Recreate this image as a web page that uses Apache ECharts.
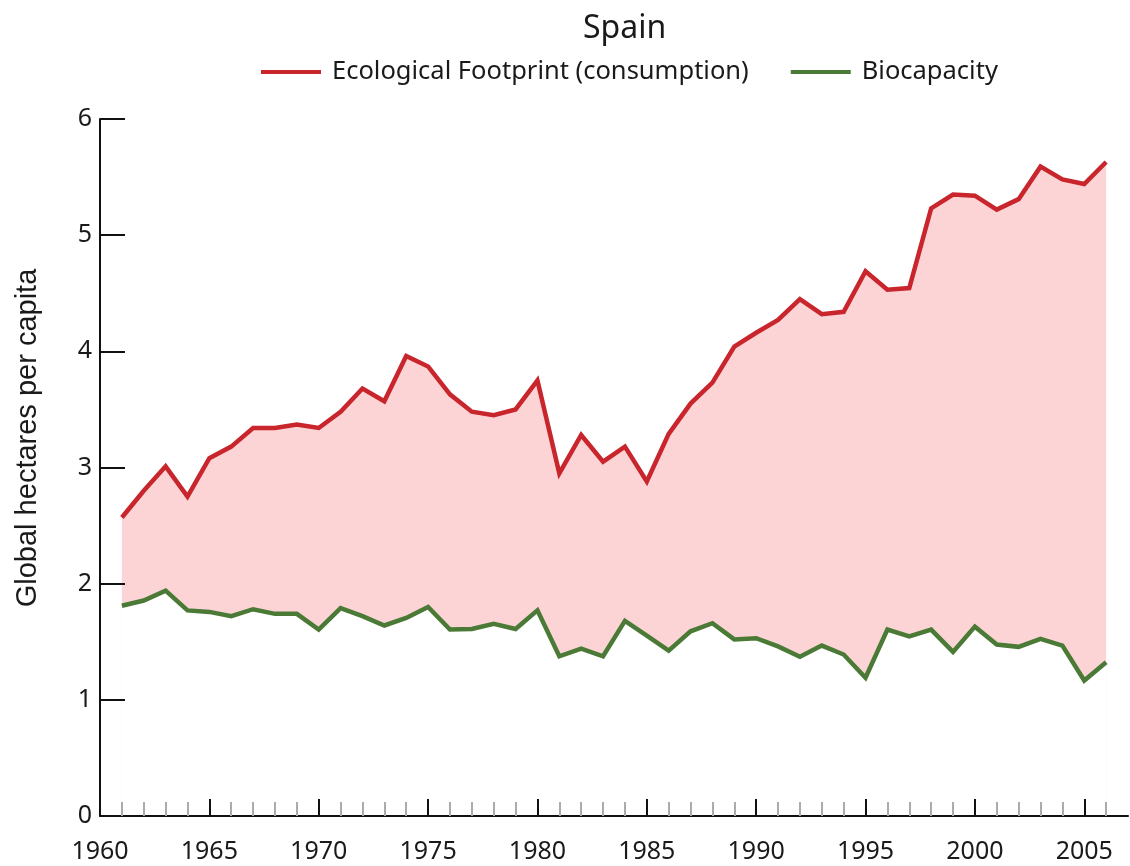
<!DOCTYPE html>
<html>
<head>
<meta charset="utf-8">
<title>Spain</title>
<script src="https://cdn.jsdelivr.net/npm/echarts@6/dist/echarts.min.js"></script>
<style>
    html, body {margin: 0; padding: 0; background: #fff;}
    #chart {width: 1130px; height: 866px;}
</style>
</head>
<body>
<div id="chart"></div>
<script>
// years of data
const years = [
    1961, 1962, 1963, 1964, 1965, 1966, 1967, 1968, 1969, 1970,
    1971, 1972, 1973, 1974, 1975, 1976, 1977, 1978, 1979, 1980,
    1981, 1982, 1983, 1984, 1985, 1986, 1987, 1988, 1989, 1990,
    1991, 1992, 1993, 1994, 1995, 1996, 1997, 1998, 1999, 2000,
    2001, 2002, 2003, 2004, 2005, 2006
];
// Ecological Footprint (consumption)
const footprint = [
    2.57, 2.80, 3.01, 2.75, 3.08, 3.18, 3.34, 3.34, 3.37, 3.34,
    3.48, 3.68, 3.57, 3.96, 3.87, 3.63, 3.48, 3.45, 3.50, 3.75,
    2.95, 3.28, 3.05, 3.18, 2.88, 3.29, 3.55, 3.73, 4.04, 4.16,
    4.27, 4.45, 4.32, 4.34, 4.69, 4.53, 4.545, 5.23, 5.35, 5.34,
    5.22, 5.31, 5.59, 5.48, 5.44, 5.63
];
// Biocapacity
const biocapacity = [
    1.81, 1.855, 1.94, 1.77, 1.757, 1.72, 1.78, 1.74, 1.74, 1.605,
    1.79, 1.72, 1.64, 1.705, 1.80, 1.605, 1.61, 1.654, 1.61, 1.77,
    1.375, 1.44, 1.375, 1.68, 1.553, 1.424, 1.59, 1.66, 1.52, 1.53,
    1.46, 1.37, 1.467, 1.39, 1.19, 1.605, 1.547, 1.605, 1.413, 1.63,
    1.476, 1.456, 1.525, 1.467, 1.166, 1.324
];
// x tick labels (major ticks)
const yearLabels = [1960, 1965, 1970, 1975, 1980, 1985, 1990, 1995, 2000, 2005];
// y tick labels
const valueTicks = [0, 1, 2, 3, 4, 5, 6];

const names = ['Ecological Footprint (consumption)', 'Biocapacity'];
const colors = ['#c8252c', '#4b7a36'];

const minorYears = years.filter(y => yearLabels.indexOf(y) < 0);
const pairs = (vals) => years.map((y, i) => [y, vals[i]]);

const chart = echarts.init(document.getElementById('chart'));

const baseAxis = {
    type: 'value',
    gridIndex: 0,
    position: 'bottom',
    min: 1960,
    max: 2007,
    splitLine: {show: false},
    z: 10,
};

const option = {
    animation: false,
    backgroundColor: '#fff',
    title: {
        text: 'Spain',
        left: 578,
        top: 8,
        textStyle: {
            fontFamily: 'Noto Sans',
            fontSize: 32,
            fontWeight: 'normal',
            color: '#1a1a1a',
        },
    },
    legend: {
        data: names,
        left: 256,
        top: 54,
        icon: 'rect',
        itemWidth: 60,
        itemHeight: 4,
        itemGap: 42,
        textStyle: {
            fontFamily: 'Noto Sans',
            fontSize: 25.5,
            color: '#1a1a1a',
            padding: [0, 0, 0, 6],
        },
    },
    //y轴标题
    graphic: [
        {
            type: 'text',
            x: 28,
            y: 438,
            rotation: Math.PI / 2,
            style: {
                text: 'Global hectares per capita',
                fontFamily: 'Liberation Sans',
                fontSize: 29,
                fill: '#1a1a1a',
                align: 'center',
                verticalAlign: 'middle',
            },
        },
    ],
    grid: {
        left: 100,
        right: 2,
        top: 119,
        bottom: 50,
        containLabel: false,
        outerBoundsMode: 'none',
    },
    xAxis: [
        {
            ...baseAxis,
            axisLine: {show: true, lineStyle: {color: '#111', width: 2}},
            axisTick: {
                show: true,
                inside: true,
                length: 17,
                customValues: yearLabels,
                lineStyle: {color: '#111', width: 2},
            },
            axisLabel: {
                customValues: yearLabels,
                formatter: v => String(v),
                margin: 23,
                fontFamily: 'Noto Sans',
                fontSize: 25,
                color: '#1a1a1a',
            },
        },
        {
            ...baseAxis,
            axisLine: {show: false},
            axisTick: {
                show: true,
                inside: true,
                length: 14,
                customValues: minorYears,
                lineStyle: {color: '#ababab', width: 2},
            },
            axisLabel: {show: false},
        },
    ],
    yAxis: {
        type: 'value',
        min: 0,
        max: 6,
        interval: 1,
        z: 10,
        splitLine: {show: false},
        axisLine: {show: true, lineStyle: {color: '#111', width: 2}},
        axisTick: {
            show: true,
            inside: true,
            length: 25,
            lineStyle: {color: '#111', width: 2},
        },
        axisLabel: {
            customValues: valueTicks,
            margin: 8,
            fontFamily: 'Noto Sans',
            fontSize: 25,
            color: '#1a1a1a',
        },
    },
    series: [
        {
            name: names[0],
            type: 'line',
            data: pairs(footprint),
            symbol: 'none',
            color: colors[0],
            lineStyle: {color: colors[0], width: 4.5, join: 'miter'},
            areaStyle: {color: '#fdd4d5', opacity: 1},
            z: 2,
        },
        {
            name: names[1],
            type: 'line',
            data: pairs(biocapacity),
            symbol: 'none',
            color: colors[1],
            lineStyle: {color: colors[1], width: 4.5, join: 'miter'},
            //下方白色，只留两线之间的粉色
            areaStyle: {color: '#ffffff', opacity: 1},
            z: 3,
        },
    ],
};

chart.setOption(option);
</script>
</body>
</html>
